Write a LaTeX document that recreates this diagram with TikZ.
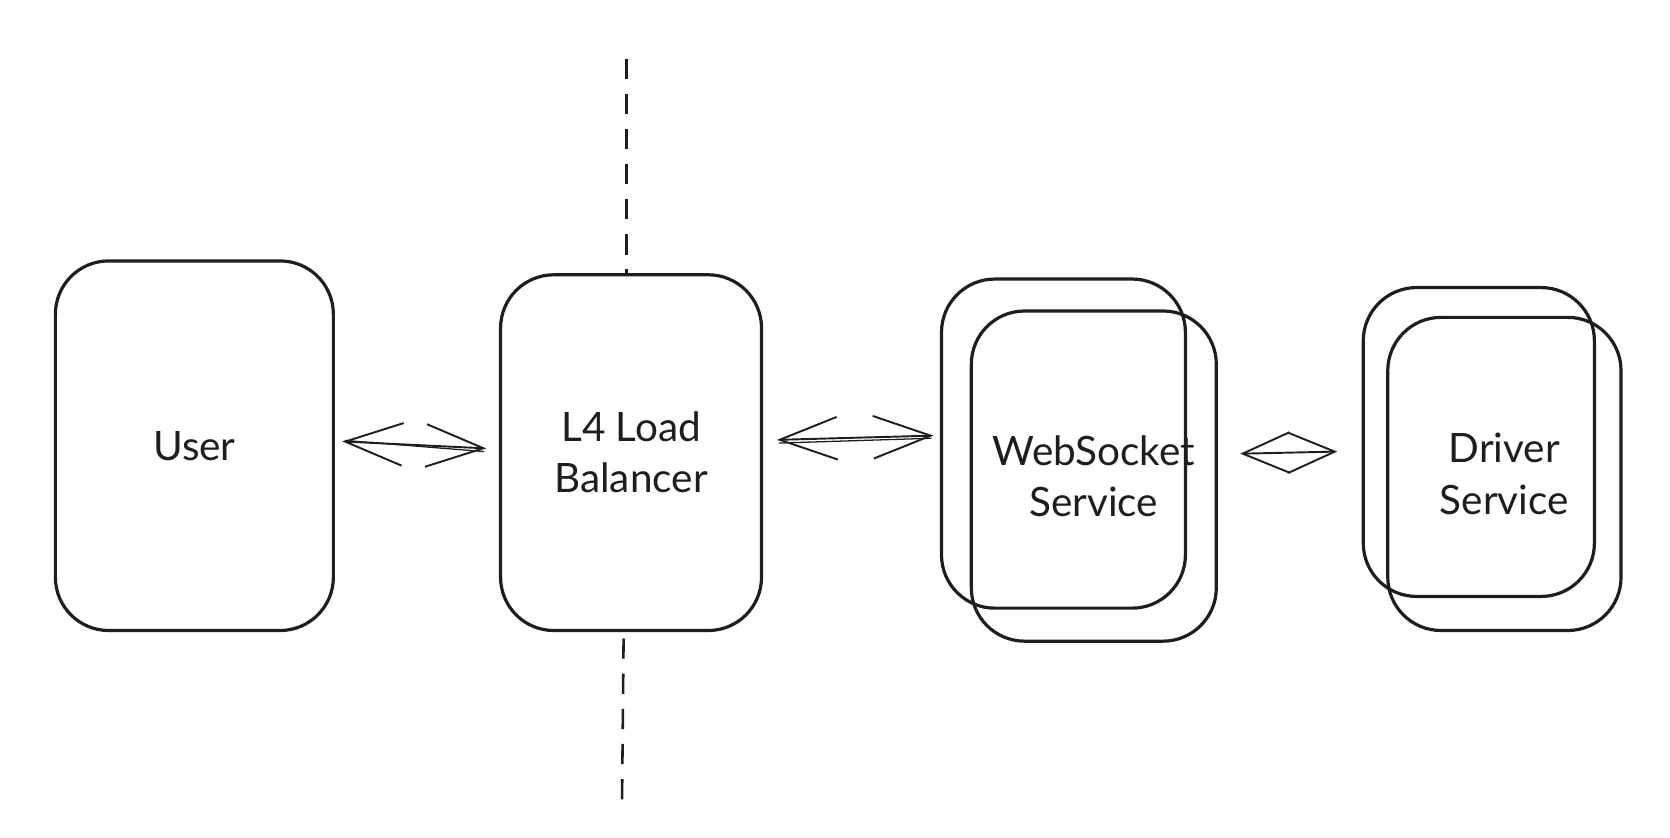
\documentclass[tikz,border=0pt]{standalone}
\usepackage{fontspec}
\setmainfont{Lato}
\usetikzlibrary{arrows.meta}
\definecolor{ink}{HTML}{1E1E1E}
\begin{document}
\begin{tikzpicture}[x=1pt,y=-1pt,
  box/.style={draw=ink, line width=3pt, rounded corners=50pt, inner sep=0pt,
    align=center, text=ink, font=\fontsize{38}{48}\selectfont},
  conn/.style={draw=ink, line width=1.8pt,
    {Straight Barb[length=54pt,width=40pt]}-{Straight Barb[length=54pt,width=40pt]}},
  shortconn/.style={draw=ink, line width=1.8pt,
    {Straight Barb[length=44pt,width=38pt]}-{Straight Barb[length=44pt,width=38pt]}},
  shaft/.style={draw=ink, line width=1.2pt},
  dashline/.style={draw=ink, line width=2.4pt, dash pattern=on 19pt off 14pt}]
\useasboundingbox (0,0) rectangle (1568,786);
% boxes
\node[box, minimum width=261pt, minimum height=347pt] (user) at (182.5,418.5) {User};
\node[box, minimum width=245pt, minimum height=334pt] (lb) at (592.5,425) {L4 Load\\Balancer};
\node[box, minimum width=229pt, minimum height=309pt] (wsb) at (998.5,416.5) {};
\node[box, minimum width=230pt, minimum height=310pt] (ws) at (1027,447) {WebSocket\\Service};
\node[box, minimum width=217pt, minimum height=290pt] (drb) at (1388.5,415) {};
\node[box, minimum width=219pt, minimum height=294pt] (dr) at (1412.5,445) {Driver\\Service};
% dashed divider
\coordinate (dtop) at (588,55);
\coordinate (dbot) at (584,757);
\draw[dashline] (dtop) -- ([xshift=-4.5pt]lb.north);
\draw[dashline] ([xshift=-7pt,yshift=-6pt]lb.south) -- (dbot);
% connectors
\draw[conn] ([xshift=7pt,yshift=4pt]user.east) -- ([xshift=-12pt,yshift=4pt]lb.west);
\draw[shaft] ([xshift=9pt,yshift=5pt]user.east) -- ([xshift=-14pt,yshift=1pt]lb.west);
\draw[conn] ([xshift=13pt,yshift=12pt]lb.east) -- ([xshift=-6pt,yshift=7.5pt]wsb.west);
\draw[shaft] ([xshift=15pt,yshift=9pt]lb.east) -- ([xshift=-8pt,yshift=5pt]wsb.west);
\draw[shortconn] ([xshift=21pt,yshift=21pt]ws.east) -- ([xshift=-23pt,yshift=-9pt]drb.west);
\end{tikzpicture}
\end{document}
